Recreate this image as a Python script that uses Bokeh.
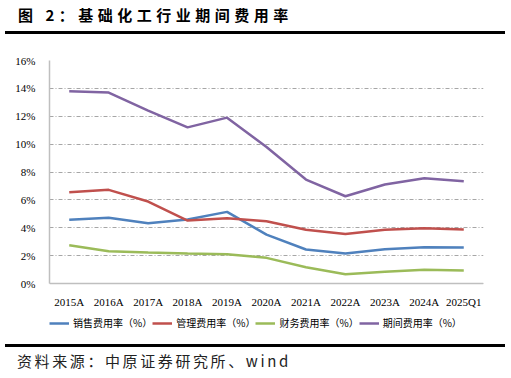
from bokeh.plotting import figure
from bokeh.models import Div, FixedTicker, Legend, LegendItem, FactorRange, Range1d
from bokeh.layouts import column
from bokeh.embed import file_html
from bokeh.resources import INLINE

categories = ["2015A", "2016A", "2017A", "2018A", "2019A", "2020A", "2021A", "2022A", "2023A", "2024A", "2025Q1"]
sales_rate = [4.57, 4.71, 4.33, 4.59, 5.14, 3.51, 2.44, 2.15, 2.46, 2.60, 2.58]
admin_rate = [6.55, 6.72, 5.88, 4.52, 4.69, 4.47, 3.85, 3.56, 3.85, 3.97, 3.87]
finance_rate = [2.75, 2.32, 2.22, 2.15, 2.10, 1.84, 1.17, 0.67, 0.84, 0.98, 0.93]
period_rate = [13.80, 13.70, 12.40, 11.20, 11.90, 9.80, 7.46, 6.26, 7.10, 7.55, 7.34]
series_names = ["销售费用率（%）", "管理费用率（%）", "财务费用率（%）", "期间费用率（%）"]
series_colors = ["#4F81BD", "#C0504D", "#9BBB59", "#8064A2"]
y_ticks = [0, 2, 4, 6, 8, 10, 12, 14, 16]
y_tick_labels = ["0%", "2%", "4%", "6%", "8%", "10%", "12%", "14%", "16%"]
title_text = "图 2：基础化工行业期间费用率"
source_text = "资料来源：中原证券研究所、wind"

W = 511
FRAME_TOP, ZERO_Y, FRAME_BOTTOM = 60, 283, 338  # page pixels (layout only)
px_per_unit = (ZERO_Y - FRAME_TOP) / y_ticks[-1]
y_start = -(FRAME_BOTTOM - ZERO_Y) / px_per_unit

title_div = Div(
    text=f'<div style="position:relative;width:{W}px;height:40px;">'
         f'<span style="position:absolute;left:18px;top:6px;font-family:\'Noto Sans CJK SC\';'
         f'font-weight:bold;font-size:15px;line-height:17px;letter-spacing:4.5px;color:#000;white-space:nowrap;">{title_text}</span>'
         f'<div style="position:absolute;left:5px;top:31px;width:500px;height:3px;background:#000;"></div></div>',
    width=W, height=40, margin=0)

p = figure(width=W, height=FRAME_BOTTOM - 40, x_range=FactorRange(*categories, range_padding=0),
           y_range=Range1d(y_start, y_ticks[-1]), output_backend="svg", toolbar_location=None,
           min_border_left=49, min_border_right=28, min_border_top=FRAME_TOP - 40, min_border_bottom=0)
p.outline_line_color = None
p.background_fill_color = "white"
p.border_fill_color = "white"

renderers = []
for vals, col in zip([sales_rate, admin_rate, finance_rate, period_rate], series_colors):
    r = p.line(categories, vals, line_color=col, line_width=2.5)
    renderers.append(r)

p.yaxis.ticker = FixedTicker(ticks=y_ticks)
p.yaxis.major_label_overrides = {t: l for t, l in zip(y_ticks, y_tick_labels)}
p.yaxis.bounds = (y_ticks[0], y_ticks[-1])
p.xaxis.fixed_location = 0
for ax in [p.xaxis[0], p.yaxis[0]]:
    ax.axis_line_color = "#BFBFBF"
    ax.axis_line_width = 1.5
    ax.major_tick_line_color = None
    ax.minor_tick_line_color = None
    ax.major_label_text_font = "Liberation Serif"
    ax.major_label_text_font_size = "11px"
    ax.major_label_text_color = "#000000"
p.yaxis.major_label_standoff = 8
p.xaxis.major_label_standoff = 6

p.xgrid.grid_line_color = None
p.ygrid.grid_line_color = "#A6A6A6"
p.ygrid.grid_line_dash = "4 2 1 2"
p.ygrid.grid_line_width = 1

legend = Legend(items=[LegendItem(label=n, renderers=[r]) for n, r in zip(series_names, renderers)],
                orientation="horizontal", location=(0, 8),
                label_text_font="Noto Sans CJK SC", label_text_font_size="10px",
                label_text_color="#000000", glyph_width=20, glyph_height=12,
                label_standoff=4, spacing=0, padding=0, margin=0,
                border_line_color=None, background_fill_alpha=0)
p.add_layout(legend, "center")

source_div = Div(
    text=f'<div style="position:relative;width:{W}px;height:40px;">'
         f'<div style="position:absolute;left:5px;top:6px;width:500px;height:3px;background:#000;"></div>'
         f'<span style="position:absolute;left:17px;top:14px;font-family:\'Noto Sans CJK SC\';'
         f'font-size:15px;line-height:17px;letter-spacing:2.6px;color:#222;white-space:nowrap;">{source_text}</span></div>',
    width=W, height=40, margin=0)

layout = column(title_div, p, source_div, spacing=0)
open("out.html", "w").write(file_html(layout, INLINE))
